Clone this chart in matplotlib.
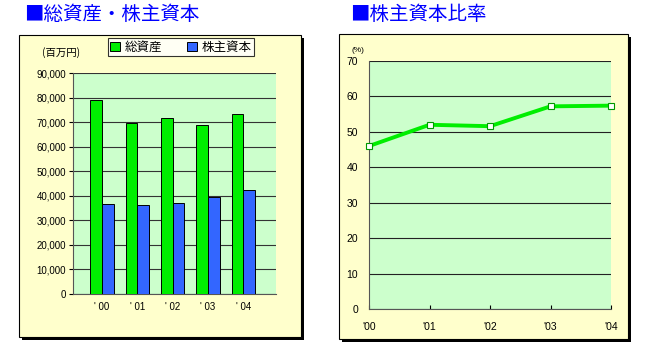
import matplotlib
matplotlib.use("Agg")
import matplotlib.pyplot as plt
from matplotlib.patches import Rectangle

plt.rcParams['font.family'] = ['Liberation Sans', 'Noto Sans CJK JP', 'DejaVu Sans']

years = ["'00", "'01", "'02", "'03", "'04"]
total_assets = [79000, 69500, 71800, 68800, 73400]
equity = [36500, 36200, 37100, 39400, 42300]
equity_ratio = [46.0, 52.0, 51.6, 57.2, 57.4]
series_names = ["総資産", "株主資本"]

W, H = 650, 353
fig = plt.figure(figsize=(W / 100, H / 100), dpi=100)
fig.patch.set_facecolor('white')

def fx(x):
    return x / W

def fy(y):
    return 1 - y / H

def panel(x0, y0, x1, y1):
    fig.patches.append(Rectangle((fx(x0 + 3), fy(y1 + 3)), fx(x1 - x0), (y1 - y0) / H,
                                 transform=fig.transFigure, facecolor='black',
                                 edgecolor='none', zorder=-3))
    fig.patches.append(Rectangle((fx(x0), fy(y1)), fx(x1 - x0), (y1 - y0) / H,
                                 transform=fig.transFigure, facecolor='#ffffcc',
                                 edgecolor='black', linewidth=0.8, zorder=-2))

panel(19, 35, 301, 337)
panel(339, 34, 628, 339)

cjk = ['Noto Sans CJK JP', 'DejaVu Sans']
fig.text(fx(24), fy(15), "■総資産・株主資本", color='#0000ff', fontsize=14,
         family=cjk, va='center', ha='left')
fig.text(fx(350), fy(15), "■株主資本比率", color='#0000ff', fontsize=14,
         family=cjk, va='center', ha='left')

green = '#00ee00'
blue = '#3366ff'

# Left chart
ax1 = fig.add_axes([fx(73), fy(294), fx(276 - 73), (294 - 73) / H])
ax1.set_facecolor('#ccffcc')
x = list(range(len(years)))
bw = 0.33
ax1.bar([i - bw / 2 for i in x], total_assets, width=bw, color=green,
        edgecolor='black', linewidth=0.7, zorder=3, label=series_names[0])
ax1.bar([i + bw / 2 for i in x], equity, width=bw, color=blue,
        edgecolor='black', linewidth=0.7, zorder=3, label=series_names[1])
ax1.set_xlim(-0.82, 4.93)
ax1.set_ylim(0, 90000)
ax1.set_yticks(range(0, 90001, 10000))
ax1.set_yticklabels([f"{v:,}" for v in range(0, 90001, 10000)], fontsize=7)
ax1.set_xticks(x)
ax1.set_xticklabels(["' " + y[1:] for y in years], fontsize=7)
ax1.grid(axis='y', color='#333333', linewidth=0.8, zorder=1)
ax1.set_axisbelow(True)
for s in ['top', 'right']:
    ax1.spines[s].set_visible(False)
ax1.spines['left'].set_color('#555555')
ax1.spines['bottom'].set_color('#555555')
ax1.tick_params(axis='y', length=3, pad=2)
ax1.tick_params(axis='x', length=0, pad=6)
fig.text(fx(42), fy(53), "(百万円)", fontsize=7.5, family=cjk, va='center', ha='left')
leg = ax1.legend(loc='center', bbox_to_anchor=(fx(181 - 73) / fx(203), 1 + (73 - 47) / 221),
                 ncol=2, frameon=True, fancybox=False, edgecolor='black',
                 handlelength=0.75, handleheight=0.75, columnspacing=2.0,
                 handletextpad=0.4, borderpad=0.2, prop={'family': cjk, 'size': 9})
leg.get_frame().set_linewidth(0.8)

# Right chart
ax2 = fig.add_axes([fx(369), fy(309), fx(611 - 369), (309 - 61) / H])
ax2.set_facecolor('#ccffcc')
ax2.plot(x, equity_ratio, color=green, linewidth=2.8, marker='s', markersize=4,
         markerfacecolor='white', markeredgecolor='#009900', markeredgewidth=0.8,
         zorder=4, clip_on=False)
ax2.set_xlim(0, 4)
ax2.set_ylim(0, 70)
ax2.set_yticks(range(0, 71, 10))
ax2.set_yticklabels([str(v) for v in range(0, 71, 10)], fontsize=7.5)
ax2.set_xticks(x)
ax2.set_xticklabels(years, fontsize=7.5)
ax2.grid(axis='y', color='#222222', linewidth=0.8, zorder=1)
ax2.set_axisbelow(True)
for s in ['top', 'right']:
    ax2.spines[s].set_visible(False)
ax2.spines['left'].set_color('#555555')
ax2.spines['bottom'].set_color('#555555')
ax2.tick_params(axis='y', length=0, pad=8)
ax2.tick_params(axis='x', length=3, direction='in', pad=9)
fig.text(fx(352), fy(51), "(%)", fontsize=6, va='center', ha='left')

fig.savefig("out.png", dpi=100, facecolor='white')
